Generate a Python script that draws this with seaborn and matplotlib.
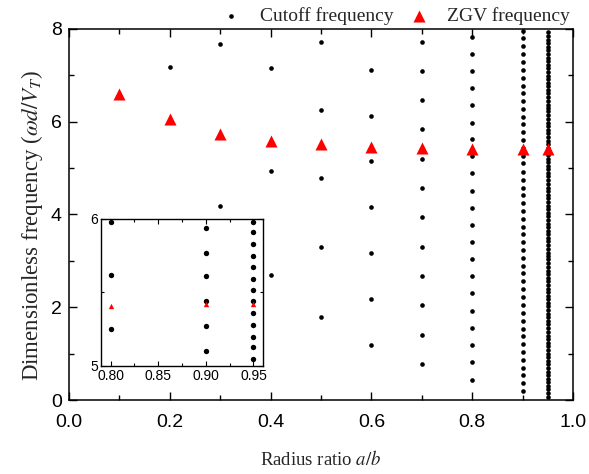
import numpy as np
import pandas as pd
import matplotlib
matplotlib.use("Agg")
import matplotlib.pyplot as plt
from matplotlib.ticker import MultipleLocator
import seaborn as sns

# ---------------- data ----------------
ratios_cut = [0.2, 0.3, 0.4, 0.5, 0.6, 0.7, 0.8, 0.9, 0.95]
cutoff_02 = [7.18]
cutoff_03 = [4.19, 7.68]
cutoff_04 = [2.69, 4.94, 7.15]
cutoff_05 = [1.79, 3.29, 4.78, 6.25, 7.72]
cutoff_06 = [1.19, 2.18, 3.17, 4.17, 5.15, 6.13, 7.11]
cutoff_07 = [0.77, 1.40, 2.04, 2.67, 3.30, 3.94, 4.58, 5.20, 5.84, 6.47, 7.10, 7.72]
cutoff_08 = [0.44, 0.81, 1.19, 1.55, 1.92, 2.30, 2.67, 3.03, 3.40, 3.77, 4.14,
             4.50, 4.89, 5.25, 5.62, 5.98, 6.35, 6.72, 7.09, 7.46, 7.83]
cutoff_09 = [0.19, 0.36, 0.53, 0.70, 0.87, 1.04, 1.20, 1.37, 1.54, 1.71, 1.88,
             2.05, 2.22, 2.39, 2.56, 2.73, 2.89, 3.06, 3.23, 3.40, 3.57, 3.74,
             3.91, 4.08, 4.25, 4.42, 4.58, 4.75, 4.92, 5.10, 5.27, 5.44, 5.61,
             5.77, 5.94, 6.11, 6.27, 6.44, 6.61, 6.78, 6.95, 7.12, 7.29, 7.46,
             7.63, 7.80, 7.96]
cutoff_095 = [0.07, 0.15, 0.23, 0.30, 0.38, 0.46, 0.54, 0.61, 0.69, 0.77, 0.85,
              0.93, 1.00, 1.08, 1.16, 1.24, 1.31, 1.39, 1.47, 1.55, 1.63, 1.70,
              1.78, 1.86, 1.94, 2.02, 2.09, 2.17, 2.25, 2.33, 2.40, 2.48, 2.56,
              2.64, 2.72, 2.79, 2.87, 2.95, 3.03, 3.10, 3.18, 3.26, 3.34, 3.42,
              3.49, 3.57, 3.65, 3.73, 3.80, 3.88, 3.96, 4.04, 4.12, 4.19, 4.27,
              4.35, 4.43, 4.50, 4.58, 4.66, 4.74, 4.82, 4.89, 4.97, 5.05, 5.13,
              5.20, 5.28, 5.36, 5.44, 5.52, 5.59, 5.67, 5.75, 5.83, 5.91, 5.98,
              6.06, 6.14, 6.22, 6.29, 6.37, 6.45, 6.53, 6.61, 6.68, 6.76, 6.84,
              6.92, 6.99, 7.07, 7.15, 7.23, 7.31, 7.38, 7.46, 7.54, 7.62, 7.69,
              7.77, 7.85, 7.93]
cutoff_sets = [cutoff_02, cutoff_03, cutoff_04, cutoff_05, cutoff_06,
               cutoff_07, cutoff_08, cutoff_09, cutoff_095]

zgv_ratio = [0.1, 0.2, 0.3, 0.4, 0.5, 0.6, 0.7, 0.8, 0.9, 0.95]
zgv_freq = [6.59, 6.05, 5.73, 5.59, 5.51, 5.46, 5.44, 5.41, 5.42, 5.42]

main_xticks = [0.0, 0.2, 0.4, 0.6, 0.8, 1.0]
main_yticks = [0, 2, 4, 6, 8]
inset_xticks = [0.80, 0.85, 0.90, 0.95]
inset_yticks = [5, 6]

cut_df = pd.DataFrame({
    "ratio": [r for r, s in zip(ratios_cut, cutoff_sets) for _ in s],
    "freq": [v for s in cutoff_sets for v in s],
})
zgv_df = pd.DataFrame({"ratio": zgv_ratio, "freq": zgv_freq})

# ---------------- style ----------------
sns.set_theme(style="white")
plt.rcParams["font.family"] = ["Liberation Sans", "DejaVu Sans"]
plt.rcParams["mathtext.fontset"] = "stix"
plt.rcParams["axes.linewidth"] = 1.1

fig = plt.figure(figsize=(5.89, 4.74), dpi=100)
ax = fig.add_axes([0.117, 0.156, 0.856, 0.783])

sns.scatterplot(data=cut_df, x="ratio", y="freq", ax=ax, color="black",
                marker="o", s=11, linewidth=0, label="Cutoff frequency",
                zorder=3)
sns.scatterplot(data=zgv_df, x="ratio", y="freq", ax=ax, color="red",
                marker="^", s=75, linewidth=0, label="ZGV frequency",
                zorder=4)

ax.set_xlim(0, 1.0)
ax.set_ylim(0, 8)
ax.set_xticks(main_xticks)
ax.set_xticklabels([f"{t:.1f}" for t in main_xticks])
ax.set_yticks(main_yticks)
ax.xaxis.set_minor_locator(MultipleLocator(0.1))
ax.yaxis.set_minor_locator(MultipleLocator(1))
ax.tick_params(which="both", direction="in", top=True, right=True,
               bottom=True, left=True, width=1.0, colors="black")
ax.tick_params(which="major", length=6, labelsize=14)
ax.tick_params(which="minor", length=3.5)
ax.tick_params(axis="x", which="major", pad=10)
ax.tick_params(axis="y", which="major", pad=5)
for sp in ax.spines.values():
    sp.set_color("black")

ax.set_xlabel("Radius ratio $a/b$", family=["Liberation Serif"],
              fontsize=13.5, labelpad=14)
ax.set_ylabel(r"Dimensionless frequency ($\omega d/V_T$)",
              family=["Liberation Serif"], fontsize=16.5, labelpad=4)
ax.yaxis.label.set_y(0.47)

leg = ax.legend(loc="lower right", bbox_to_anchor=(0.997, 1.005), ncol=2,
                frameon=False, prop={"family": "Liberation Serif", "size": 14},
                handletextpad=0.45, columnspacing=0.3, borderaxespad=0.0,
                markerscale=1.0, borderpad=0.1)

# ---------------- inset ----------------
axin = fig.add_axes([0.1715, 0.228, 0.275, 0.310])
axin.set_facecolor("white")
sns.scatterplot(data=cut_df, x="ratio", y="freq", ax=axin, color="black",
                marker="o", s=15, linewidth=0, legend=False, zorder=3)
sns.scatterplot(data=zgv_df, x="ratio", y="freq", ax=axin, color="red",
                marker="^", s=15, linewidth=0, legend=False, zorder=4)
axin.set_xlim(0.79, 0.96)
axin.set_ylim(5, 6)
axin.set_xticks(inset_xticks)
axin.set_xticklabels([f"{t:.2f}" for t in inset_xticks])
axin.set_yticks(inset_yticks)
axin.xaxis.set_minor_locator(MultipleLocator(0.025))
axin.yaxis.set_minor_locator(MultipleLocator(0.5))
axin.tick_params(which="both", direction="in", top=True, right=True,
                 bottom=True, left=True, width=0.8, colors="black")
axin.tick_params(which="major", length=3.5, labelsize=10, pad=2)
axin.tick_params(which="minor", length=2)
axin.set_xlabel("")
axin.set_ylabel("")
for sp in axin.spines.values():
    sp.set_color("black")
    sp.set_linewidth(1.0)

fig.savefig("out.png", dpi=100)
